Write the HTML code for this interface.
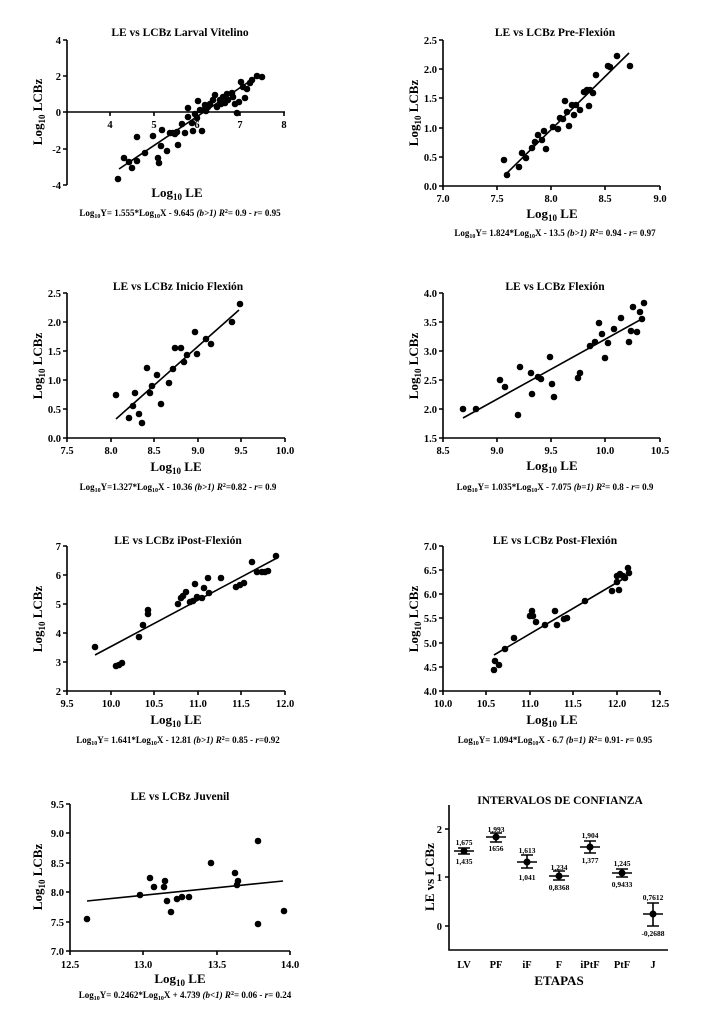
<!DOCTYPE html>
<html><head><meta charset="utf-8"><style>
body{margin:0;background:#fff}
svg{display:block}
text{font-family:"Liberation Serif",serif;font-weight:bold;fill:#000}
.t{font-size:11.5px}
.k{font-size:10.5px}
.a{font-size:13px}
.e{font-size:9px}
.s{font-size:7.5px;font-weight:normal}
line,path{stroke:#000;stroke-width:1.6;fill:none}
circle{fill:#000}
</style></head><body>
<svg width="717" height="1026" viewBox="0 0 717 1026">
<!-- Panel 1 -->
<text class="t" x="180" y="36" text-anchor="middle">LE vs LCBz Larval Vitelino</text>
<path d="M67 40V185 M63 40H67 M63 76H67 M63 112H67 M63 149H67 M63 185H67 M67 112H285 M110 112v4 M154 112v4 M197 112v4 M240 112v4 M284 112v4"/>
<g class="k" text-anchor="end"><text x="61" y="44">4</text><text x="61" y="80">2</text><text x="61" y="116">0</text><text x="61" y="153">-2</text><text x="61" y="189">-4</text></g>
<g class="k" text-anchor="middle"><text x="110" y="128">4</text><text x="154" y="128">5</text><text x="197" y="128">6</text><text x="240" y="128">7</text><text x="284" y="128">8</text></g>
<text class="a" x="177" y="197" text-anchor="middle">Log<tspan font-size="9" dy="3">10</tspan><tspan dy="-3"> LE</tspan></text>
<text class="a" transform="translate(42 112) rotate(-90)" text-anchor="middle">Log<tspan font-size="9" dy="3">10</tspan><tspan dy="-3"> LCBz</tspan></text>
<text class="e" x="180" y="216" text-anchor="middle">Log<tspan font-size="6" dy="2">10</tspan><tspan dy="-2">Y= 1.555*Log</tspan><tspan font-size="6" dy="2">10</tspan><tspan dy="-2">X - 9.645 </tspan><tspan font-style="italic">(b&gt;1)  R</tspan><tspan font-size="6" dy="-3">2</tspan><tspan dy="3">= 0.9 - </tspan><tspan font-style="italic">r</tspan>= 0.95</text>
<path d="M119 169L256 77"/>
<g>
<circle cx="118" cy="179" r="3.3"/><circle cx="124" cy="158" r="3.3"/><circle cx="132" cy="168" r="3.3"/><circle cx="137" cy="161" r="3.3"/><circle cx="137" cy="137" r="3.3"/><circle cx="145" cy="153" r="3.3"/><circle cx="153" cy="136" r="3.3"/><circle cx="158" cy="158" r="3.3"/><circle cx="159" cy="163" r="3.3"/><circle cx="162" cy="130" r="3.3"/><circle cx="161" cy="146" r="3.3"/><circle cx="167" cy="151" r="3.3"/><circle cx="170" cy="133" r="3.3"/><circle cx="173" cy="133" r="3.3"/><circle cx="177" cy="132" r="3.3"/><circle cx="178" cy="145" r="3.3"/><circle cx="182" cy="124" r="3.3"/><circle cx="185" cy="133" r="3.3"/><circle cx="188" cy="108" r="3.3"/><circle cx="188" cy="117" r="3.3"/><circle cx="192" cy="123" r="3.3"/><circle cx="193" cy="131" r="3.3"/><circle cx="197" cy="118" r="3.3"/><circle cx="198" cy="101" r="3.3"/><circle cx="200" cy="110" r="3.3"/><circle cx="202" cy="131" r="3.3"/><circle cx="204" cy="110" r="3.3"/><circle cx="205" cy="105" r="3.3"/><circle cx="208" cy="107" r="3.3"/><circle cx="213" cy="100" r="3.3"/><circle cx="217" cy="107" r="3.3"/><circle cx="220" cy="100" r="3.3"/><circle cx="223" cy="97" r="3.3"/><circle cx="225" cy="103" r="3.3"/><circle cx="228" cy="100" r="3.3"/><circle cx="232" cy="93" r="3.3"/><circle cx="233" cy="97" r="3.3"/><circle cx="235" cy="104" r="3.3"/><circle cx="237" cy="113" r="3.3"/><circle cx="239" cy="102" r="3.3"/><circle cx="241" cy="82" r="3.3"/><circle cx="243" cy="87" r="3.3"/><circle cx="245" cy="98" r="3.3"/><circle cx="247" cy="89" r="3.3"/><circle cx="250" cy="83" r="3.3"/><circle cx="252" cy="80" r="3.3"/><circle cx="257" cy="76" r="3.3"/><circle cx="262" cy="77" r="3.3"/><circle cx="175" cy="134" r="3.3"/><circle cx="195" cy="114" r="3.3"/><circle cx="210" cy="104" r="3.3"/><circle cx="215" cy="95" r="3.3"/><circle cx="227" cy="94" r="3.3"/><circle cx="129" cy="162" r="3.3"/><circle cx="206" cy="111" r="3.3"/><circle cx="221" cy="104" r="3.3"/>
</g>
<!-- Panel 2 -->
<text class="t" x="555" y="36" text-anchor="middle">LE vs LCBz Pre-Flexión</text>
<path d="M443 40V186H660 M439 40H443 M439 69H443 M439 98H443 M439 128H443 M439 157H443 M439 186H443 M443 186v4 M497 186v4 M551 186v4 M605 186v4 M660 186v4"/>
<g class="k" text-anchor="end"><text x="437" y="44">2.5</text><text x="437" y="73">2.0</text><text x="437" y="102">1.5</text><text x="437" y="132">1.0</text><text x="437" y="161">0.5</text><text x="437" y="190">0.0</text></g>
<g class="k" text-anchor="middle"><text x="443" y="202">7.0</text><text x="497" y="202">7.5</text><text x="551" y="202">8.0</text><text x="605" y="202">8.5</text><text x="660" y="202">9.0</text></g>
<text class="a" x="552" y="218" text-anchor="middle">Log<tspan font-size="9" dy="3">10</tspan><tspan dy="-3"> LE</tspan></text>
<text class="a" transform="translate(418 113) rotate(-90)" text-anchor="middle">Log<tspan font-size="9" dy="3">10</tspan><tspan dy="-3"> LCBz</tspan></text>
<text class="e" x="555" y="236" text-anchor="middle">Log<tspan font-size="6" dy="2">10</tspan><tspan dy="-2">Y= 1.824*Log</tspan><tspan font-size="6" dy="2">10</tspan><tspan dy="-2">X - 13.5 </tspan><tspan font-style="italic">(b&gt;1)  R</tspan><tspan font-size="6" dy="-3">2</tspan><tspan dy="3">= 0.94 - </tspan><tspan font-style="italic">r</tspan>= 0.97</text>
<path d="M506 174L629 53"/>
<g>
<circle cx="504" cy="160" r="3.3"/><circle cx="507" cy="175" r="3.3"/><circle cx="519" cy="167" r="3.3"/><circle cx="522" cy="153" r="3.3"/><circle cx="526" cy="158" r="3.3"/><circle cx="532" cy="148" r="3.3"/><circle cx="535" cy="142" r="3.3"/><circle cx="538" cy="135" r="3.3"/><circle cx="542" cy="140" r="3.3"/><circle cx="544" cy="131" r="3.3"/><circle cx="546" cy="149" r="3.3"/><circle cx="553" cy="127" r="3.3"/><circle cx="558" cy="129" r="3.3"/><circle cx="560" cy="118" r="3.3"/><circle cx="563" cy="119" r="3.3"/><circle cx="565" cy="101" r="3.3"/><circle cx="567" cy="112" r="3.3"/><circle cx="569" cy="126" r="3.3"/><circle cx="572" cy="105" r="3.3"/><circle cx="574" cy="115" r="3.3"/><circle cx="576" cy="105" r="3.3"/><circle cx="580" cy="110" r="3.3"/><circle cx="584" cy="92" r="3.3"/><circle cx="587" cy="90" r="3.3"/><circle cx="589" cy="106" r="3.3"/><circle cx="590" cy="90" r="3.3"/><circle cx="593" cy="93" r="3.3"/><circle cx="596" cy="75" r="3.3"/><circle cx="608" cy="66" r="3.3"/><circle cx="610" cy="67" r="3.3"/><circle cx="617" cy="56" r="3.3"/><circle cx="630" cy="66" r="3.3"/>
</g>
<!-- Panel 3 -->
<text class="t" x="178" y="290" text-anchor="middle">LE vs LCBz Inicio Flexión</text>
<path d="M67 293V438H285 M63 293H67 M63 322H67 M63 351H67 M63 380H67 M63 409H67 M63 438H67 M67 438v4 M111 438v4 M154 438v4 M198 438v4 M241 438v4 M285 438v4"/>
<g class="k" text-anchor="end"><text x="61" y="297">2.5</text><text x="61" y="326">2.0</text><text x="61" y="355">1.5</text><text x="61" y="384">1.0</text><text x="61" y="413">0.5</text><text x="61" y="442">0.0</text></g>
<g class="k" text-anchor="middle"><text x="67" y="454">7.5</text><text x="111" y="454">8.0</text><text x="154" y="454">8.5</text><text x="198" y="454">9.0</text><text x="241" y="454">9.5</text><text x="285" y="454">10.0</text></g>
<text class="a" x="176" y="471" text-anchor="middle">Log<tspan font-size="9" dy="3">10</tspan><tspan dy="-3"> LE</tspan></text>
<text class="a" transform="translate(42 366) rotate(-90)" text-anchor="middle">Log<tspan font-size="9" dy="3">10</tspan><tspan dy="-3"> LCBz</tspan></text>
<text class="e" x="178" y="490" text-anchor="middle">Log<tspan font-size="6" dy="2">10</tspan><tspan dy="-2">Y=1.327*Log</tspan><tspan font-size="6" dy="2">10</tspan><tspan dy="-2">X - 10.36 </tspan><tspan font-style="italic">(b&gt;1) R</tspan><tspan font-size="6" dy="-3">2</tspan><tspan dy="3">=0.82 - </tspan><tspan font-style="italic">r</tspan>= 0.9</text>
<path d="M116 419L239 310"/>
<g>
<circle cx="116" cy="395" r="3.3"/><circle cx="129" cy="418" r="3.3"/><circle cx="133" cy="406" r="3.3"/><circle cx="135" cy="393" r="3.3"/><circle cx="139" cy="414" r="3.3"/><circle cx="142" cy="423" r="3.3"/><circle cx="147" cy="368" r="3.3"/><circle cx="150" cy="393" r="3.3"/><circle cx="152" cy="386" r="3.3"/><circle cx="157" cy="375" r="3.3"/><circle cx="161" cy="404" r="3.3"/><circle cx="169" cy="383" r="3.3"/><circle cx="173" cy="369" r="3.3"/><circle cx="175" cy="348" r="3.3"/><circle cx="181" cy="348" r="3.3"/><circle cx="184" cy="362" r="3.3"/><circle cx="187" cy="355" r="3.3"/><circle cx="195" cy="332" r="3.3"/><circle cx="197" cy="354" r="3.3"/><circle cx="206" cy="339" r="3.3"/><circle cx="211" cy="344" r="3.3"/><circle cx="232" cy="322" r="3.3"/><circle cx="240" cy="304" r="3.3"/>
</g>
<!-- Panel 4 -->
<text class="t" x="555" y="290" text-anchor="middle">LE vs LCBz Flexión</text>
<path d="M443 293V438H660 M439 293H443 M439 322H443 M439 351H443 M439 380H443 M439 409H443 M439 438H443 M443 438v4 M497 438v4 M551 438v4 M605 438v4 M660 438v4"/>
<g class="k" text-anchor="end"><text x="437" y="297">4.0</text><text x="437" y="326">3.5</text><text x="437" y="355">3.0</text><text x="437" y="384">2.5</text><text x="437" y="413">2.0</text><text x="437" y="442">1.5</text></g>
<g class="k" text-anchor="middle"><text x="443" y="454">8.5</text><text x="497" y="454">9.0</text><text x="551" y="454">9.5</text><text x="605" y="454">10.0</text><text x="660" y="454">10.5</text></g>
<text class="a" x="552" y="470" text-anchor="middle">Log<tspan font-size="9" dy="3">10</tspan><tspan dy="-3"> LE</tspan></text>
<text class="a" transform="translate(418 366) rotate(-90)" text-anchor="middle">Log<tspan font-size="9" dy="3">10</tspan><tspan dy="-3"> LCBz</tspan></text>
<text class="e" x="555" y="490" text-anchor="middle">Log<tspan font-size="6" dy="2">10</tspan><tspan dy="-2">Y= 1.035*Log</tspan><tspan font-size="6" dy="2">10</tspan><tspan dy="-2">X - 7.075 </tspan><tspan font-style="italic">(b=1)  R</tspan><tspan font-size="6" dy="-3">2</tspan><tspan dy="3">= 0.8 - </tspan><tspan font-style="italic">r</tspan>= 0.9</text>
<path d="M463 418L640 320"/>
<g>
<circle cx="463" cy="409" r="3.3"/><circle cx="476" cy="409" r="3.3"/><circle cx="500" cy="380" r="3.3"/><circle cx="505" cy="387" r="3.3"/><circle cx="518" cy="415" r="3.3"/><circle cx="520" cy="367" r="3.3"/><circle cx="531" cy="373" r="3.3"/><circle cx="532" cy="394" r="3.3"/><circle cx="538" cy="377" r="3.3"/><circle cx="541" cy="379" r="3.3"/><circle cx="550" cy="357" r="3.3"/><circle cx="552" cy="384" r="3.3"/><circle cx="554" cy="397" r="3.3"/><circle cx="578" cy="378" r="3.3"/><circle cx="580" cy="373" r="3.3"/><circle cx="590" cy="346" r="3.3"/><circle cx="595" cy="342" r="3.3"/><circle cx="599" cy="323" r="3.3"/><circle cx="602" cy="334" r="3.3"/><circle cx="605" cy="358" r="3.3"/><circle cx="608" cy="343" r="3.3"/><circle cx="614" cy="329" r="3.3"/><circle cx="621" cy="318" r="3.3"/><circle cx="629" cy="342" r="3.3"/><circle cx="631" cy="331" r="3.3"/><circle cx="633" cy="307" r="3.3"/><circle cx="637" cy="332" r="3.3"/><circle cx="640" cy="312" r="3.3"/><circle cx="642" cy="319" r="3.3"/><circle cx="644" cy="303" r="3.3"/>
</g>
<!-- Panel 5 -->
<text class="t" x="178" y="544" text-anchor="middle">LE vs LCBz iPost-Flexión</text>
<path d="M67 546V691H285 M63 546H67 M63 575H67 M63 604H67 M63 633H67 M63 662H67 M63 691H67 M67 691v4 M111 691v4 M154 691v4 M198 691v4 M241 691v4 M285 691v4"/>
<g class="k" text-anchor="end"><text x="61" y="550">7</text><text x="61" y="579">6</text><text x="61" y="608">5</text><text x="61" y="637">4</text><text x="61" y="666">3</text><text x="61" y="695">2</text></g>
<g class="k" text-anchor="middle"><text x="67" y="707">9.5</text><text x="111" y="707">10.0</text><text x="154" y="707">10.5</text><text x="198" y="707">11.0</text><text x="241" y="707">11.5</text><text x="285" y="707">12.0</text></g>
<text class="a" x="176" y="724" text-anchor="middle">Log<tspan font-size="9" dy="3">10</tspan><tspan dy="-3"> LE</tspan></text>
<text class="a" transform="translate(42 619) rotate(-90)" text-anchor="middle">Log<tspan font-size="9" dy="3">10</tspan><tspan dy="-3"> LCBz</tspan></text>
<text class="e" x="178" y="743" text-anchor="middle">Log<tspan font-size="6" dy="2">10</tspan><tspan dy="-2">Y= 1.641*Log</tspan><tspan font-size="6" dy="2">10</tspan><tspan dy="-2">X - 12.81 </tspan><tspan font-style="italic">(b&gt;1) R</tspan><tspan font-size="6" dy="-3">2</tspan><tspan dy="3">= 0.85 - </tspan><tspan font-style="italic">r</tspan>=0.92</text>
<path d="M95 655L277 558"/>
<g>
<circle cx="95" cy="647" r="3.3"/><circle cx="116" cy="666" r="3.3"/><circle cx="119" cy="665" r="3.3"/><circle cx="122" cy="663" r="3.3"/><circle cx="139" cy="637" r="3.3"/><circle cx="143" cy="625" r="3.3"/><circle cx="148" cy="610" r="3.3"/><circle cx="148" cy="614" r="3.3"/><circle cx="178" cy="604" r="3.3"/><circle cx="181" cy="598" r="3.3"/><circle cx="183" cy="596" r="3.3"/><circle cx="186" cy="592" r="3.3"/><circle cx="190" cy="602" r="3.3"/><circle cx="193" cy="601" r="3.3"/><circle cx="195" cy="584" r="3.3"/><circle cx="197" cy="597" r="3.3"/><circle cx="202" cy="598" r="3.3"/><circle cx="204" cy="588" r="3.3"/><circle cx="208" cy="578" r="3.3"/><circle cx="209" cy="593" r="3.3"/><circle cx="221" cy="578" r="3.3"/><circle cx="236" cy="587" r="3.3"/><circle cx="240" cy="585" r="3.3"/><circle cx="244" cy="583" r="3.3"/><circle cx="252" cy="562" r="3.3"/><circle cx="257" cy="572" r="3.3"/><circle cx="262" cy="572" r="3.3"/><circle cx="265" cy="572" r="3.3"/><circle cx="268" cy="571" r="3.3"/><circle cx="276" cy="556" r="3.3"/>
</g>
<!-- Panel 6 -->
<text class="t" x="555" y="544" text-anchor="middle">LE vs LCBz Post-Flexión</text>
<path d="M443 546V691H660 M439 546H443 M439 570H443 M439 594H443 M439 618H443 M439 643H443 M439 667H443 M439 691H443 M443 691v4 M486 691v4 M530 691v4 M573 691v4 M617 691v4 M660 691v4"/>
<g class="k" text-anchor="end"><text x="437" y="550">7.0</text><text x="437" y="574">6.5</text><text x="437" y="598">6.0</text><text x="437" y="622">5.5</text><text x="437" y="647">5.0</text><text x="437" y="671">4.5</text><text x="437" y="695">4.0</text></g>
<g class="k" text-anchor="middle"><text x="443" y="707">10.0</text><text x="486" y="707">10.5</text><text x="530" y="707">11.0</text><text x="573" y="707">11.5</text><text x="617" y="707">12.0</text><text x="660" y="707">12.5</text></g>
<text class="a" x="552" y="724" text-anchor="middle">Log<tspan font-size="9" dy="3">10</tspan><tspan dy="-3"> LE</tspan></text>
<text class="a" transform="translate(418 619) rotate(-90)" text-anchor="middle">Log<tspan font-size="9" dy="3">10</tspan><tspan dy="-3"> LCBz</tspan></text>
<text class="e" x="555" y="743" text-anchor="middle">Log<tspan font-size="6" dy="2">10</tspan><tspan dy="-2">Y= 1.094*Log</tspan><tspan font-size="6" dy="2">10</tspan><tspan dy="-2">X - 6.7 </tspan><tspan font-style="italic">(b=1)  R</tspan><tspan font-size="6" dy="-3">2</tspan><tspan dy="3">= 0.91- </tspan><tspan font-style="italic">r</tspan>= 0.95</text>
<path d="M494 655L623 579"/>
<g>
<circle cx="494" cy="670" r="3.3"/><circle cx="495" cy="661" r="3.3"/><circle cx="499" cy="665" r="3.3"/><circle cx="505" cy="649" r="3.3"/><circle cx="514" cy="638" r="3.3"/><circle cx="530" cy="616" r="3.3"/><circle cx="532" cy="611" r="3.3"/><circle cx="533" cy="616" r="3.3"/><circle cx="536" cy="622" r="3.3"/><circle cx="545" cy="625" r="3.3"/><circle cx="555" cy="611" r="3.3"/><circle cx="557" cy="625" r="3.3"/><circle cx="564" cy="619" r="3.3"/><circle cx="567" cy="618" r="3.3"/><circle cx="585" cy="601" r="3.3"/><circle cx="612" cy="591" r="3.3"/><circle cx="617" cy="576" r="3.3"/><circle cx="617" cy="582" r="3.3"/><circle cx="619" cy="590" r="3.3"/><circle cx="620" cy="574" r="3.3"/><circle cx="623" cy="576" r="3.3"/><circle cx="625" cy="578" r="3.3"/><circle cx="628" cy="568" r="3.3"/><circle cx="629" cy="573" r="3.3"/>
</g>
<!-- Panel 7 -->
<text class="t" x="180" y="800" text-anchor="middle">LE vs LCBz Juvenil</text>
<path d="M70 804V951H290 M66 804H70 M66 833H70 M66 863H70 M66 892H70 M66 922H70 M66 951H70 M70 951v4 M143 951v4 M217 951v4 M290 951v4"/>
<g class="k" text-anchor="end"><text x="64" y="808">9.5</text><text x="64" y="837">9.0</text><text x="64" y="867">8.5</text><text x="64" y="896">8.0</text><text x="64" y="926">7.5</text><text x="64" y="955">7.0</text></g>
<g class="k" text-anchor="middle"><text x="70" y="968">12.5</text><text x="143" y="968">13.0</text><text x="217" y="968">13.5</text><text x="290" y="968">14.0</text></g>
<text class="a" x="180" y="983" text-anchor="middle">Log<tspan font-size="9" dy="3">10</tspan><tspan dy="-3"> LE</tspan></text>
<text class="a" transform="translate(42 877) rotate(-90)" text-anchor="middle">Log<tspan font-size="9" dy="3">10</tspan><tspan dy="-3"> LCBz</tspan></text>
<text class="e" x="185" y="998" text-anchor="middle">Log<tspan font-size="6" dy="2">10</tspan><tspan dy="-2">Y= 0.2462*Log</tspan><tspan font-size="6" dy="2">10</tspan><tspan dy="-2">X + 4.739 </tspan><tspan font-style="italic">(b&lt;1) R</tspan><tspan font-size="6" dy="-3">2</tspan><tspan dy="3">= 0.06 - </tspan><tspan font-style="italic">r</tspan>= 0.24</text>
<path d="M87 901L283 881"/>
<g>
<circle cx="87" cy="919" r="3.3"/><circle cx="140" cy="895" r="3.3"/><circle cx="150" cy="878" r="3.3"/><circle cx="154" cy="887" r="3.3"/><circle cx="164" cy="887" r="3.3"/><circle cx="165" cy="881" r="3.3"/><circle cx="167" cy="901" r="3.3"/><circle cx="171" cy="912" r="3.3"/><circle cx="177" cy="899" r="3.3"/><circle cx="182" cy="897" r="3.3"/><circle cx="189" cy="897" r="3.3"/><circle cx="211" cy="863" r="3.3"/><circle cx="235" cy="873" r="3.3"/><circle cx="237" cy="885" r="3.3"/><circle cx="238" cy="881" r="3.3"/><circle cx="258" cy="924" r="3.3"/><circle cx="258" cy="841" r="3.3"/><circle cx="284" cy="911" r="3.3"/>
</g>
<!-- Panel 8 -->
<text class="t" x="560" y="804" text-anchor="middle">INTERVALOS DE CONFIANZA</text>
<path d="M449 805V950H668 M445 829H449 M445 877H449 M445 926H449"/>
<g class="k" text-anchor="end"><text x="442" y="833">2</text><text x="442" y="881">1</text><text x="442" y="930">0</text></g>
<g class="k" text-anchor="middle"><text x="464" y="968">LV</text><text x="496" y="968">PF</text><text x="527" y="968">iF</text><text x="559" y="968">F</text><text x="590" y="968">iPtF</text><text x="622" y="968">PtF</text><text x="653" y="968">J</text></g>
<text class="a" x="559" y="985" text-anchor="middle">ETAPAS</text>
<text class="a" transform="translate(434 877) rotate(-90)" text-anchor="middle">LE vs LCBz</text>
<path stroke-width="2.3" d="M454 851h20 M464 848v6 M458 848h12 M458 854h12
M486 837h20 M496 833v9 M490 833h12 M490 842h12
M517 862h20 M527 855v13 M521 855h12 M521 868h12
M549 876h20 M559 871v9 M553 871h12 M553 880h12
M580 847h20 M590 841v12 M584 841h12 M584 853h12
M612 873h20 M622 869v8 M616 869h12 M616 877h12
M643 914h20 M653 903v23 M647 903h12 M647 926h12"/>
<g><circle cx="464" cy="851" r="3.5"/><circle cx="496" cy="837" r="3.5"/><circle cx="527" cy="862" r="3.5"/><circle cx="559" cy="876" r="3.5"/><circle cx="590" cy="847" r="3.5"/><circle cx="622" cy="873" r="3.5"/><circle cx="653" cy="914" r="3.5"/></g>
<g class="s" text-anchor="middle">
<text x="464" y="845">1,675</text><text x="464" y="864">1,435</text>
<text x="496" y="832">1,993</text><text x="496" y="851">1656</text>
<text x="527" y="853">1,613</text><text x="527" y="880">1,041</text>
<text x="559" y="870">1,234</text><text x="559" y="890">0,8368</text>
<text x="590" y="838">1,904</text><text x="590" y="863">1,377</text>
<text x="622" y="866">1,245</text><text x="622" y="887">0,9433</text>
<text x="653" y="900">0,7612</text><text x="653" y="936">-0,2688</text>
</g>
</svg>
</body></html>
